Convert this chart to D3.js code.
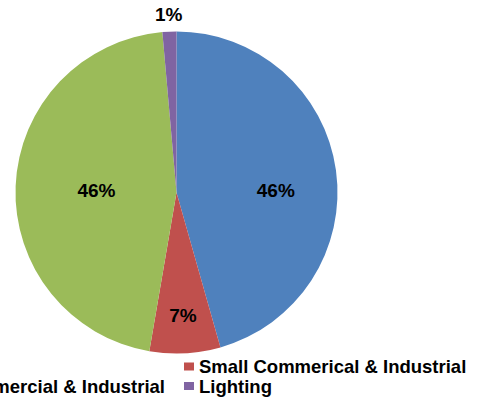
<!DOCTYPE html>
<html>
<head>
<meta charset="utf-8">
<script src="https://cdn.jsdelivr.net/npm/d3@7"></script>
<style>
  body { margin: 0; background: #fff; }
  svg { display: block; font-family: "Liberation Sans", Arial, sans-serif; font-weight: bold; }
</style>
</head>
<body>
<svg></svg>
<script>
var categories = ['Residential', 'Small Commerical & Industrial', 'Large Commercial & Industrial', 'Lighting'];
var shares = [45.6, 7.1, 45.9, 1.4];
var colors = ['#4f81bd', '#c0504d', '#9bbb59', '#8064a2'];

var width = 477;
var height = 402;
var svg = d3.select('svg')
            .attr('width', width)
            .attr('height', height);

var cx = 176.5, cy = 192.5, radius = 161;

var data = categories.map(function(c, i) {
  return { name: c, value: shares[i], color: colors[i] };
});

var pie = d3.pie().sort(null).value(d => d.value);
var arc = d3.arc().innerRadius(0).outerRadius(radius);

var g = svg.append('g').attr('transform', `translate(${cx}, ${cy})`);
var arcs = pie(data);

g.selectAll('path')
  .data(arcs)
  .enter()
  .append('path')
    .attr('d', arc)
    .attr('fill', d => d.data.color);

// label placement roughly like excel's "best fit"
function labelPos(d) {
  var mid = (d.startAngle + d.endAngle) / 2;
  if (d.data.value < 3) {
    var r = radius + 18;
    return [Math.sin(mid) * r, -Math.cos(mid) * r];
  }
  if (d.data.value < 10) {
    var r2 = radius * 0.76;
    return [Math.sin(mid) * r2, -Math.cos(mid) * r2];
  }
  // big halves: label sits on the horizontal line through the middle
  return [Math.sin(mid) * radius * 0.56 + 10, -2];
}

g.selectAll('.pct')
  .data(arcs)
  .enter()
  .append('text')
    .attr('class', 'pct')
    .attr('transform', d => `translate(${labelPos(d)})`)
    .attr('text-anchor', 'middle')
    .attr('dy', '0.36em')
    .style('font-size', '19px')
    .attr('fill', '#000')
    .text(d => Math.round(d.data.value) + '%');

// legend, two columns, left column runs off the edge like the original
var legend = svg.append('g').attr('class', 'legend');
var rightX = 184;
var rowY = [366.5, 386];
var order = [[0, 1], [2, 3]]; // rows: [left, right]

var items = [];
order.forEach(function(row, r) {
  row.forEach(function(idx, c) {
    var item = legend.append('g');
    item.append('rect')
      .attr('x', 0).attr('y', -4)
      .attr('width', 10).attr('height', 8)
      .attr('fill', colors[idx]);
    var t = item.append('text')
      .attr('x', 15)
      .attr('dy', '0.36em')
      .style('font-size', '18.5px')
      .attr('fill', '#000')
      .text(categories[idx]);
    items.push({ g: item, col: c, row: r, len: t.node().getComputedTextLength() });
  });
});

var leftLen = d3.max(items.filter(d => d.col === 0), d => d.len);
var leftX = rightX - 19 - leftLen - 15;
items.forEach(function(d) {
  d.g.attr('transform', `translate(${d.col === 0 ? leftX : rightX}, ${rowY[d.row]})`);
});
</script>
</body>
</html>
